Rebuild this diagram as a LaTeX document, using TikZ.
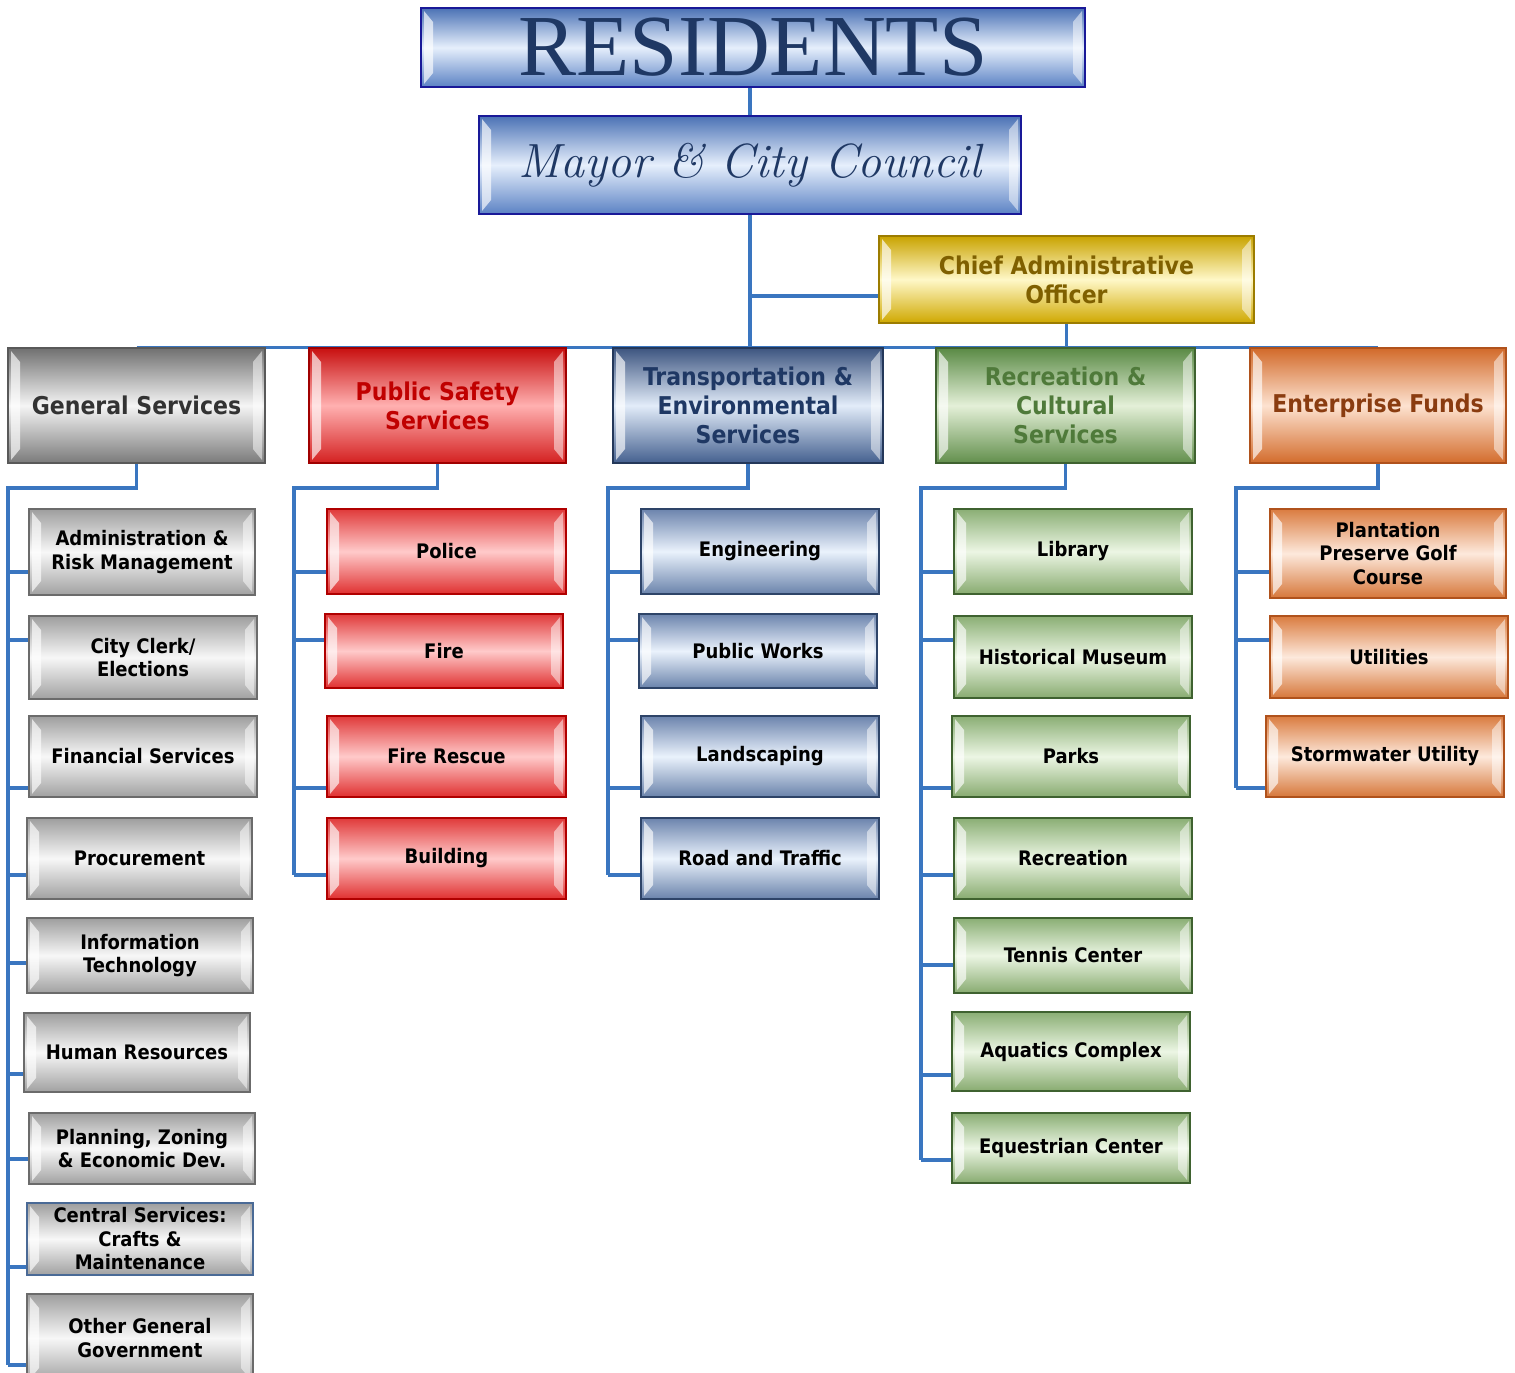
\documentclass[tikz,border=0pt]{standalone}
\usepackage{fontspec}
\usetikzlibrary{backgrounds}
\newfontfamily\boxfont{DejaVu Sans Condensed}
\newfontfamily\titlefont{Liberation Serif}

\definecolor{linkblue}{HTML}{3A76C0}
\definecolor{navy}{HTML}{1F3864}

\tikzset{
	link/.style={draw=linkblue, line width=3.5pt},
	box/.style={rectangle, line width=1.5pt, align=center, inner sep=2pt,
		font=\boxfont\bfseries\fontsize{20}{23.5}\selectfont,
		path picture={
			\fill[white, opacity=.65] ([shift={(3pt,-3pt)}]path picture bounding box.north west) -- ++(9pt,-11pt)
				-- ([shift={(12pt,14pt)}]path picture bounding box.south west) -- ++(-9pt,-11pt) -- cycle;
			\fill[white, opacity=.5] ([shift={(-3pt,-3pt)}]path picture bounding box.north east) -- ++(-9pt,-11pt)
				-- ([shift={(-12pt,14pt)}]path picture bounding box.south east) -- ++(9pt,-11pt) -- cycle;
		}},
	dept/.style={box, font=\boxfont\bfseries\fontsize{24.5}{29}\selectfont, minimum height=115pt},
	topbox/.style={box, draw=blue!55!black!90, top color={rgb,255:red,75;green,114;blue,181},
		bottom color={rgb,255:red,91;green,130;blue,196}, middle color={rgb,255:red,230;green,239;blue,252}, text=navy},
	gsdept/.style={dept, draw=black!65, top color=black!56, bottom color=black!52, middle color=black!4, text=black!80},
	gsbox/.style={box, draw=black!58, top color=black!38, bottom color=black!37, middle color=black!3},
	psdept/.style={dept, draw={rgb,255:red,160;green,0;blue,0}, top color={rgb,255:red,200;green,16;blue,16},
		bottom color={rgb,255:red,212;green,32;blue,32}, middle color={rgb,255:red,255;green,176;blue,176}, text={rgb,255:red,192;green,0;blue,0}},
	psbox/.style={box, draw={rgb,255:red,176;green,0;blue,0}, top color={rgb,255:red,224;green,58;blue,58},
		bottom color={rgb,255:red,224;green,48;blue,48}, middle color={rgb,255:red,255;green,202;blue,202}},
	tesdept/.style={dept, draw={rgb,255:red,36;green,56;blue,90}, top color={rgb,255:red,61;green,85;blue,128},
		bottom color={rgb,255:red,68;green,96;blue,143}, middle color={rgb,255:red,226;green,236;blue,249}, text=navy},
	tesbox/.style={box, draw={rgb,255:red,46;green,68;blue,104}, top color={rgb,255:red,108;green,132;blue,173},
		bottom color={rgb,255:red,106;green,131;blue,171}, middle color={rgb,255:red,234;green,242;blue,252}},
	rcsdept/.style={dept, draw={rgb,255:red,63;green,98;blue,48}, top color={rgb,255:red,90;green,138;blue,69},
		bottom color={rgb,255:red,98;green,143;blue,76}, middle color={rgb,255:red,228;green,240;blue,216}, text={rgb,255:red,79;green,122;blue,58}},
	rcsbox/.style={box, draw={rgb,255:red,63;green,98;blue,48}, top color={rgb,255:red,138;green,174;blue,116},
		bottom color={rgb,255:red,136;green,171;blue,112}, middle color={rgb,255:red,236;green,246;blue,228}},
	efdept/.style={dept, draw={rgb,255:red,176;green,82;blue,28}, top color={rgb,255:red,210;green,106;blue,42},
		bottom color={rgb,255:red,211;green,108;blue,44}, middle color={rgb,255:red,253;green,226;blue,208}, text={rgb,255:red,138;green,60;blue,16}},
	efbox/.style={box, draw={rgb,255:red,176;green,82;blue,28}, top color={rgb,255:red,218;green,124;blue,64},
		bottom color={rgb,255:red,214;green,119;blue,58}, middle color={rgb,255:red,253;green,233;blue,220}},
	caobox/.style={box, draw={rgb,255:red,156;green,124;blue,0}, top color={rgb,255:red,201;green,163;blue,0},
		bottom color={rgb,255:red,207;green,168;blue,0}, middle color={rgb,255:red,255;green,248;blue,200},
		text={rgb,255:red,127;green,96;blue,0}, font=\boxfont\bfseries\fontsize{24.5}{29}\selectfont}
}

\begin{document}
\begin{tikzpicture}[x=1pt, y=-1pt]
	\useasboundingbox (0,0) rectangle (1515,1373);

	\node[topbox, minimum width=664pt, minimum height=79pt, font=\titlefont\fontsize{87}{87}\selectfont] (residents) at (753,47.5) {RESIDENTS};
	\node[topbox, minimum width=542pt, minimum height=98pt, font=\itshape\fontsize{48}{48}\selectfont] (council) at (750,165) {Mayor \& City Council};
	\node[caobox, minimum width=375pt, minimum height=87pt] (cao) at (1066.5,279.5) {Chief Administrative\\Officer};

	\node[gsdept, minimum width=257pt] (general) at (136.5,405.5) {General Services};
	\node[psdept, minimum width=257pt] (safety) at (437.5,405.5) {Public Safety\\Services};
	\node[tesdept, minimum width=270pt] (transport) at (748,405.5) {Transportation \&\\Environmental\\Services};
	\node[rcsdept, minimum width=259pt] (culture) at (1065.5,405.5) {Recreation \&\\Cultural\\Services};
	\node[efdept, minimum width=256pt] (enterprise) at (1378,405.5) {Enterprise Funds};

	\node[gsbox, minimum width=226pt, minimum height=86pt] (admin) at (142,552) {Administration \&\\Risk Management};
	\node[gsbox, minimum width=228pt, minimum height=83pt] (clerk) at (143,657.5) {City Clerk/\\Elections};
	\node[gsbox, minimum width=228pt, minimum height=81pt] (finance) at (143,756.5) {Financial Services};
	\node[gsbox, minimum width=225pt, minimum height=81pt] (procure) at (139.5,858.5) {Procurement};
	\node[gsbox, minimum width=226pt, minimum height=75pt] (infotech) at (140,955.5) {Information\\Technology};
	\node[gsbox, minimum width=226pt, minimum height=79pt] (hr) at (137,1052.5) {Human Resources};
	\node[gsbox, minimum width=226pt, minimum height=71pt] (planning) at (142,1148.5) {Planning, Zoning\\\& Economic Dev.};
	\node[gsbox, minimum width=226pt, minimum height=72pt, draw={rgb,255:red,74;green,106;blue,150}] (central) at (140,1239) {Central Services:\\Crafts \&\\Maintenance};
	\node[gsbox, minimum width=226pt, minimum height=88pt] (othergov) at (140,1338) {Other General\\Government};

	\node[psbox, minimum width=239pt, minimum height=85pt] (police) at (446.5,551.5) {Police};
	\node[psbox, minimum width=238pt, minimum height=74pt] (fire) at (444,651) {Fire};
	\node[psbox, minimum width=239pt, minimum height=81pt] (rescue) at (446.5,756.5) {Fire Rescue};
	\node[psbox, minimum width=239pt, minimum height=81pt] (building) at (446.5,858.5) {Building};

	\node[tesbox, minimum width=238pt, minimum height=85pt] (engineering) at (760,551.5) {Engineering};
	\node[tesbox, minimum width=238pt, minimum height=74pt] (works) at (758,651) {Public Works};
	\node[tesbox, minimum width=238pt, minimum height=81pt] (landscaping) at (760,756.5) {Landscaping};
	\node[tesbox, minimum width=238pt, minimum height=81pt] (traffic) at (760,858.5) {Road and Traffic};

	\node[rcsbox, minimum width=238pt, minimum height=85pt] (library) at (1073,551.5) {Library};
	\node[rcsbox, minimum width=238pt, minimum height=82pt] (museum) at (1073,657) {Historical Museum};
	\node[rcsbox, minimum width=238pt, minimum height=81pt] (parks) at (1071,756.5) {Parks};
	\node[rcsbox, minimum width=238pt, minimum height=81pt] (recreation) at (1073,858.5) {Recreation};
	\node[rcsbox, minimum width=238pt, minimum height=75pt] (tennis) at (1073,955.5) {Tennis Center};
	\node[rcsbox, minimum width=238pt, minimum height=79pt] (aquatics) at (1071,1051.5) {Aquatics Complex};
	\node[rcsbox, minimum width=238pt, minimum height=70pt] (equestrian) at (1071,1148) {Equestrian Center};

	\node[efbox, minimum width=236pt, minimum height=89pt] (golf) at (1388,553.5) {Plantation\\Preserve Golf\\Course};
	\node[efbox, minimum width=238pt, minimum height=82pt] (utilities) at (1389,657) {Utilities};
	\node[efbox, minimum width=238pt, minimum height=81pt] (stormwater) at (1385,756.5) {Stormwater Utility};

	\begin{scope}[on background layer]
		\draw[link] (residents.south -| council.north) -- (council.north);
		\draw[link] (council.south) -- (council.south |- transport.north);
		\draw[link] (council.south |- 0,296) -- (cao.west |- 0,296);
		\draw[link] (cao.south) -- (cao.south |- enterprise.north);
		\draw[link] (general.north) -- (enterprise.north);

		\coordinate (gsrail) at (8,488);
		\coordinate (psrail) at (294,488);
		\coordinate (tesrail) at (608,488);
		\coordinate (rcsrail) at (921,488);
		\coordinate (efrail) at (1236,488);

		\draw[link] (general.south) |- (gsrail) -- (gsrail |- 0,1365);
		\draw[link] (safety.south) |- (psrail) -- (psrail |- 0,875);
		\draw[link] (transport.south) |- (tesrail) -- (tesrail |- 0,875);
		\draw[link] (culture.south) |- (rcsrail) -- (rcsrail |- 0,1160);
		\draw[link] (enterprise.south) |- (efrail) -- (efrail |- 0,788);

		\draw[link] (gsrail |- 0,572) -- (admin.west |- 0,572);
		\draw[link] (gsrail |- 0,640) -- (clerk.west |- 0,640);
		\draw[link] (gsrail |- 0,788) -- (finance.west |- 0,788);
		\draw[link] (gsrail |- 0,875) -- (procure.west |- 0,875);
		\draw[link] (gsrail |- 0,963) -- (infotech.west |- 0,963);
		\draw[link] (gsrail |- 0,1074) -- (hr.west |- 0,1074);
		\draw[link] (gsrail |- 0,1159) -- (planning.west |- 0,1159);
		\draw[link] (gsrail |- 0,1267) -- (central.west |- 0,1267);
		\draw[link] (gsrail |- 0,1365) -- (othergov.west |- 0,1365);

		\draw[link] (psrail |- 0,572) -- (police.west |- 0,572);
		\draw[link] (psrail |- 0,640) -- (fire.west |- 0,640);
		\draw[link] (psrail |- 0,788) -- (rescue.west |- 0,788);
		\draw[link] (psrail |- 0,875) -- (building.west |- 0,875);

		\draw[link] (tesrail |- 0,572) -- (engineering.west |- 0,572);
		\draw[link] (tesrail |- 0,640) -- (works.west |- 0,640);
		\draw[link] (tesrail |- 0,788) -- (landscaping.west |- 0,788);
		\draw[link] (tesrail |- 0,875) -- (traffic.west |- 0,875);

		\draw[link] (rcsrail |- 0,572) -- (library.west |- 0,572);
		\draw[link] (rcsrail |- 0,640) -- (museum.west |- 0,640);
		\draw[link] (rcsrail |- 0,788) -- (parks.west |- 0,788);
		\draw[link] (rcsrail |- 0,875) -- (recreation.west |- 0,875);
		\draw[link] (rcsrail |- 0,965) -- (tennis.west |- 0,965);
		\draw[link] (rcsrail |- 0,1075) -- (aquatics.west |- 0,1075);
		\draw[link] (rcsrail |- 0,1160) -- (equestrian.west |- 0,1160);

		\draw[link] (efrail |- 0,572) -- (golf.west |- 0,572);
		\draw[link] (efrail |- 0,640) -- (utilities.west |- 0,640);
		\draw[link] (efrail |- 0,788) -- (stormwater.west |- 0,788);
	\end{scope}
\end{tikzpicture}
\end{document}
